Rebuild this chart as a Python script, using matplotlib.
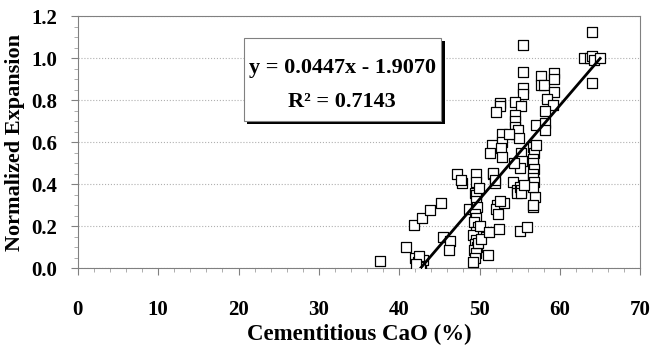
import matplotlib
matplotlib.use('Agg')
import matplotlib.pyplot as plt
import numpy as np
from matplotlib.patches import Rectangle
from matplotlib.ticker import MultipleLocator

cao = [37.6, 40.8, 41.9, 42.8, 43.8, 45.2,
       42.0, 42.3, 42.5, 42.2, 42.7, 42.9, 42.4, 42.6, 42.1,
       45.4, 46.3, 46.2, 47.2, 47.8, 47.7, 48.7,
       49.5, 49.6, 49.4, 49.6, 49.5, 49.7, 49.4, 49.6, 49.3, 49.8, 49.5, 49.2,
       49.6, 49.4, 49.7, 49.3, 49.5, 49.4, 49.2, 49.9, 49.8, 50.1, 50.2,
       51.1, 51.2, 51.7, 51.9, 52.2, 52.1, 52.3, 53.0, 52.6, 52.4, 54.1,
       55.0, 55.9, 54.6, 54.7, 55.0, 56.7, 56.9,
       64.0, 55.4, 63.0, 63.7, 64.0, 64.3, 65.0, 64.0, 55.4, 55.4, 55.4,
       57.6, 57.6, 58.0, 59.3, 59.3, 59.3, 58.4, 59.1, 58.1,
       52.5, 52.6, 52.1, 54.4, 55.2, 54.4, 54.4, 54.4, 54.5, 54.8, 54.9,
       57.0, 58.1, 58.2, 52.8, 51.5, 51.3, 52.8, 52.7, 52.8, 53.7,
       55.2, 55.3, 55.0, 54.3,
       56.7, 56.8, 56.6, 56.7, 56.8, 56.6, 56.7, 56.8, 56.6, 57.0, 56.7,
       55.2, 55.1, 55.5, 51.7, 51.9]
expansion = [0.035, 0.10, 0.205, 0.24, 0.275, 0.31,
             0.05, 0.03, 0.01, 0.0, 0.02, 0.04, 0.06, 0.005, 0.02,
             0.15, 0.128, 0.086, 0.448, 0.406, 0.42, 0.28,
             0.45, 0.41, 0.36, 0.35, 0.32, 0.29, 0.26, 0.24, 0.22, 0.197, 0.173, 0.157,
             0.133, 0.117, 0.10, 0.086, 0.07, 0.048, 0.03, 0.38, 0.12, 0.20, 0.14,
             0.062, 0.173, 0.45, 0.406, 0.30, 0.28, 0.26, 0.308, 0.32, 0.186, 0.41,
             0.178, 0.194, 0.37, 0.36, 0.387, 0.29, 0.34,
             1.125, 1.062, 1.0, 1.0, 1.01, 0.99, 1.0, 0.88, 0.935, 0.86, 0.83,
             0.914, 0.87, 0.87, 0.93, 0.90, 0.84, 0.805, 0.776, 0.75,
             0.784, 0.77, 0.744, 0.79, 0.77, 0.73, 0.70, 0.67, 0.64, 0.66, 0.62,
             0.68, 0.69, 0.66, 0.64, 0.586, 0.546, 0.60, 0.57, 0.53, 0.64,
             0.546, 0.51, 0.475, 0.50,
             0.576, 0.55, 0.52, 0.50, 0.47, 0.45, 0.43, 0.41, 0.386, 0.586, 0.30,
             0.37, 0.36, 0.395, 0.455, 0.42]

slope = 0.0447
intercept = -1.9070
r2 = 0.7143

plt.rcParams['font.family'] = ['Liberation Serif', 'DejaVu Serif']
plt.rcParams['font.weight'] = 'bold'

fig = plt.figure(figsize=(6.54, 3.5), dpi=100)
ax = fig.add_axes([0.119, 0.234, 0.860, 0.720])

ax.scatter(cao, expansion, marker='s', s=52, facecolors='white',
           edgecolors='black', linewidths=0.9, zorder=3)

x_fit = np.array([min(cao), max(cao)])
ax.plot(x_fit, slope * x_fit + intercept, color='black', lw=2, zorder=4)

ax.set_xlim(0, 70)
ax.set_ylim(0, 1.2)
ax.xaxis.set_major_locator(MultipleLocator(10))
ax.xaxis.set_minor_locator(MultipleLocator(2))
ax.yaxis.set_major_locator(MultipleLocator(0.2))
ax.yaxis.set_minor_locator(MultipleLocator(0.05))
ax.yaxis.set_major_formatter(plt.FormatStrFormatter('%.1f'))
ax.grid(True, axis='y', which='major', color='#b0b0b0', ls=':', lw=0.8)
for s in ax.spines.values():
    s.set_color('#808080')
ax.tick_params(which='major', length=5, color='#808080', labelsize=15)
ax.tick_params(which='minor', length=3, color='#a0a0a0')
ax.tick_params(axis='x', which='major', pad=18)
ax.tick_params(axis='y', which='major', pad=10)

ax.set_xlabel('Cementitious CaO (%)', fontsize=16.5, fontweight='bold', labelpad=3)
ax.set_ylabel('Normalized Expansion', fontsize=16, fontweight='bold', labelpad=4)

# equation box with drop shadow
x0, x1, y0, y1 = 0.295, 0.646, 0.583, 0.913
ax.add_patch(Rectangle((x0 + 0.006, y0 - 0.013), x1 - x0, y1 - y0,
                       transform=ax.transAxes, facecolor='black', zorder=5))
ax.add_patch(Rectangle((x0, y0), x1 - x0, y1 - y0, transform=ax.transAxes,
                       facecolor='white', edgecolor='#808080', lw=0.8, zorder=6))
ax.text(0.47, 0.794, 'y = %.4fx - %.4f' % (slope, -intercept), transform=ax.transAxes,
        ha='center', va='center', fontsize=16, fontweight='bold', zorder=7)
ax.text(0.47, 0.659, 'R\u00b2 = %.4f' % r2, transform=ax.transAxes,
        ha='center', va='center', fontsize=16, fontweight='bold', zorder=7)

fig.savefig('out.png', dpi=100)
